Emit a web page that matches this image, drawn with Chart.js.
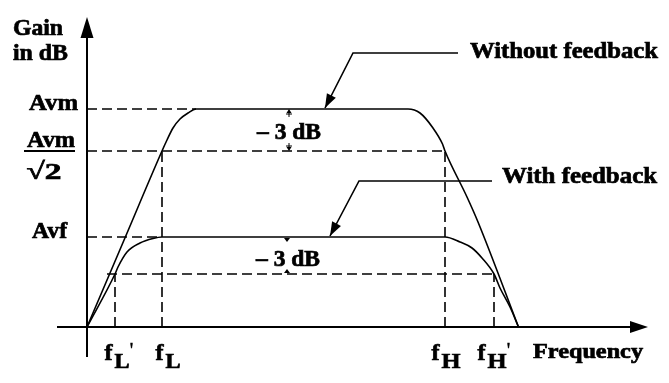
<!DOCTYPE html>
<html>
<head>
<meta charset="utf-8">
<script src="https://cdn.jsdelivr.net/npm/chart.js@4.4.1/dist/chart.umd.min.js"></script>
<style>
html, body { margin: 0; padding: 0; background: #fff; }
#wrap { position: relative; width: 669px; height: 383px; }
</style>
</head>
<body>
<div id="wrap"><canvas id="resposta"></canvas></div>
<script>
// frequency and gain in arbitrary units, origin = (0, 0)
var freqWithout = [0, 7.5, 15, 16, 17.2, 18.6, 20.2, 21.8, 64.2, 66.6, 69.2, 71.1, 71.6, 76, 78.2, 86.3];
var gainWithout = [0, 8.8, 17.6, 18.7, 19.9, 20.8, 21.4, 21.8, 21.8, 21.4, 19.9, 18.3, 17.6, 13.0, 10.5, 0];
var freqWith = [0, 5.6, 6.2, 8, 10.6, 13.2, 15, 71.6, 74.6, 77, 79, 81.4, 82.6, 84.6, 86.3];
var gainWith = [0, 5.3, 6.0, 7.5, 8.4, 8.85, 9.0, 9.0, 8.5, 7.9, 6.9, 5.3, 3.9, 2.0, 0];
var gainLevels = [21.8, 17.6, 9.0, 5.3];      // Avm, Avm/sqrt2, Avf, Avf/sqrt2
var cornerFreqs = [5.6, 15, 71.6, 81.4];      // fL', fL, fH, fH'
var cornerSubs = ['L', 'L', 'H', 'H'];
var cornerPrime = [true, false, false, true];

var toPoints = function(xs, ys) {
  return xs.map(function(x, i) { return { x: x, y: ys[i] }; });
};
var seg = function(x1, y1, x2, y2) {
  return [{ x: x1, y: y1 }, { x: x2, y: y2 }];
};

var dashedSegs = [
  seg(0, gainLevels[0], freqWithout[7], gainLevels[0]),
  seg(0, gainLevels[1], cornerFreqs[2], gainLevels[1]),
  seg(cornerFreqs[1], 0, cornerFreqs[1], gainLevels[1]),
  seg(cornerFreqs[2], 0, cornerFreqs[2], gainLevels[1]),
  seg(0, gainLevels[2], cornerFreqs[1], gainLevels[2]),
  seg(4, gainLevels[3], cornerFreqs[3], gainLevels[3]),
  seg(cornerFreqs[0], 0, cornerFreqs[0], gainLevels[3]),
  seg(cornerFreqs[3], 0, cornerFreqs[3], gainLevels[3])
];

var datasets = [
  { data: toPoints(freqWithout, gainWithout), borderColor: '#000', borderWidth: 1.6,
    pointRadius: 0, cubicInterpolationMode: 'monotone', fill: false },
  { data: toPoints(freqWith, gainWith), borderColor: '#000', borderWidth: 1.6,
    pointRadius: 0, cubicInterpolationMode: 'monotone', fill: false }
];
dashedSegs.forEach(function(s) {
  datasets.push({ data: s, borderColor: '#000', borderWidth: 1.6, borderDash: [10, 5],
    pointRadius: 0, tension: 0, fill: false });
});

var FONT = '"Liberation Serif", serif';

// heavy bold serif text, stretched to a given width like the original bitmap
var drawText = function(ctx, text, x, y, w, size, align) {
  ctx.save();
  ctx.font = 'bold ' + size + 'px ' + FONT;
  var m = ctx.measureText(text).width;
  var s = w ? w / m : 1;
  ctx.translate(x, y);
  ctx.scale(s, 1);
  var x0 = align === 'right' ? -m : (align === 'center' ? -m / 2 : 0);
  ctx.textBaseline = 'alphabetic';
  ctx.textAlign = 'left';
  ctx.lineWidth = 0.7;
  ctx.fillText(text, x0, 0);
  ctx.strokeText(text, x0, 0);
  ctx.restore();
};

var arrowHead = function(ctx, tx, ty, fx, fy, len, half) {
  var a = Math.atan2(ty - fy, tx - fx);
  ctx.beginPath();
  ctx.moveTo(tx, ty);
  ctx.lineTo(tx - len * Math.cos(a) + half * Math.sin(a), ty - len * Math.sin(a) - half * Math.cos(a));
  ctx.lineTo(tx - len * Math.cos(a) - half * Math.sin(a), ty - len * Math.sin(a) + half * Math.cos(a));
  ctx.closePath();
  ctx.fill();
};

var decor = {
  id: 'decor',
  afterDraw: function(chart) {
    var ctx = chart.ctx;
    var xs = chart.scales.x, ys = chart.scales.y;
    var px = function(v) { return xs.getPixelForValue(v); };
    var py = function(v) { return ys.getPixelForValue(v); };
    ctx.save();
    ctx.strokeStyle = '#000';
    ctx.fillStyle = '#000';

    // axes with arrows
    ctx.lineWidth = 2;
    ctx.beginPath();
    ctx.moveTo(px(0), py(-3)); ctx.lineTo(px(0), py(29));
    ctx.moveTo(px(-6), py(0)); ctx.lineTo(px(110.4), py(0));
    ctx.stroke();
    arrowHead(ctx, px(0), py(31), px(0), py(0), 21, 6.5);
    arrowHead(ctx, px(112.2), py(0), px(0), py(0), 18, 6);

    // callouts
    ctx.lineWidth = 1.6;
    var callouts = [
      [[74.2, 27.4], [53.2, 27.4], [47.6, gainLevels[0] + 0.1]],
      [[81, 14.6], [54.4, 14.6], [48.6, gainLevels[2] + 0.1]]
    ];
    callouts.forEach(function(c) {
      ctx.beginPath();
      ctx.moveTo(px(c[0][0]), py(c[0][1]));
      ctx.lineTo(px(c[1][0]), py(c[1][1]));
      ctx.lineTo(px(c[2][0]), py(c[2][1]));
      ctx.stroke();
      arrowHead(ctx, px(c[2][0]), py(c[2][1]), px(c[1][0]), py(c[1][1]), 14, 5);
    });

    // -3 dB markers
    var mx = px(40.4);
    ctx.lineWidth = 1;
    ctx.beginPath();
    ctx.moveTo(mx, py(gainLevels[0]) + 8); ctx.lineTo(mx, py(gainLevels[0]) + 2);
    ctx.moveTo(mx, py(gainLevels[1]) - 8); ctx.lineTo(mx, py(gainLevels[1]) - 2);
    ctx.moveTo(mx - 3, py(gainLevels[0]) + 5); ctx.lineTo(mx + 3, py(gainLevels[0]) + 5);
    ctx.moveTo(mx - 3, py(gainLevels[1]) - 5); ctx.lineTo(mx + 3, py(gainLevels[1]) - 5);
    ctx.stroke();
    arrowHead(ctx, mx, py(gainLevels[0]), mx, py(gainLevels[0]) + 8, 4, 2.5);
    arrowHead(ctx, mx, py(gainLevels[1]), mx, py(gainLevels[1]) - 8, 4, 2.5);
    var mx2 = px(40);
    arrowHead(ctx, mx2, py(gainLevels[2]) + 5, mx2, py(gainLevels[2]), 4, 3);
    arrowHead(ctx, mx2, py(gainLevels[3]) - 5, mx2, py(gainLevels[3]), 4, 3);
    drawText(ctx, '\u2013 3 dB', mx, py(gainLevels[1]) - 12, 64, 23, 'center');
    drawText(ctx, '\u2013 3 dB', mx2 + 1, py(gainLevels[3]) - 8, 64, 23, 'center');

    // y axis titles and levels
    drawText(ctx, 'Gain', 13, 35, 50, 23, 'left');
    drawText(ctx, 'in dB', 13, 60, 55, 23, 'left');
    drawText(ctx, 'Avm', 78, py(gainLevels[0]) + 1, 49, 24, 'right');
    drawText(ctx, 'Avm', 51, py(gainLevels[1]) - 4, 48, 24, 'center');
    ctx.lineWidth = 2;
    ctx.beginPath();
    ctx.moveTo(24, py(gainLevels[1])); ctx.lineTo(75, py(gainLevels[1]));
    ctx.stroke();
    drawText(ctx, '\u221A2', 44, py(gainLevels[1]) + 28, 35, 24, 'center');
    drawText(ctx, 'Avf', 67, py(gainLevels[2]) + 1, 35, 24, 'right');

    // x axis labels
    var shift = [4, 6, 1, 0];
    cornerFreqs.forEach(function(f, i) {
      var cx = px(f) + shift[i];
      var wf = 8, ws = cornerSubs[i] === 'H' ? 19 : 15;
      var total = wf + 2 + ws + (cornerPrime[i] ? 4 : 0);
      var left = cx - total / 2;
      drawText(ctx, 'f', left, 360, wf, 23, 'left');
      drawText(ctx, cornerSubs[i], left + wf + 2, 368, ws, 22, 'left');
      if (cornerPrime[i]) drawText(ctx, "'", left + wf + 2 + ws, 357, 4, 22, 'left');
    });
    drawText(ctx, 'Frequency', 533, 358, 110, 21, 'left');

    // series names
    drawText(ctx, 'Without feedback', 470, 58, 188, 23, 'left');
    drawText(ctx, 'With feedback', 502, 183, 155, 23, 'left');
    ctx.restore();
  }
};

new Chart(document.getElementById('resposta'), {
  type: 'line',
  data: { datasets: datasets },
  options: {
    responsive: true,
    maintainAspectRatio: false,
    animation: false,
    devicePixelRatio: 1,
    layout: { padding: { left: 57, right: 21, top: 17, bottom: 26 } },
    scales: {
      x: { type: 'linear', min: -6, max: 112.2, display: false },
      y: { type: 'linear', min: -3, max: 31, display: false }
    },
    plugins: {
      legend: { display: false },
      tooltip: { enabled: false }
    }
  },
  plugins: [decor]
});
</script>
</body>
</html>
